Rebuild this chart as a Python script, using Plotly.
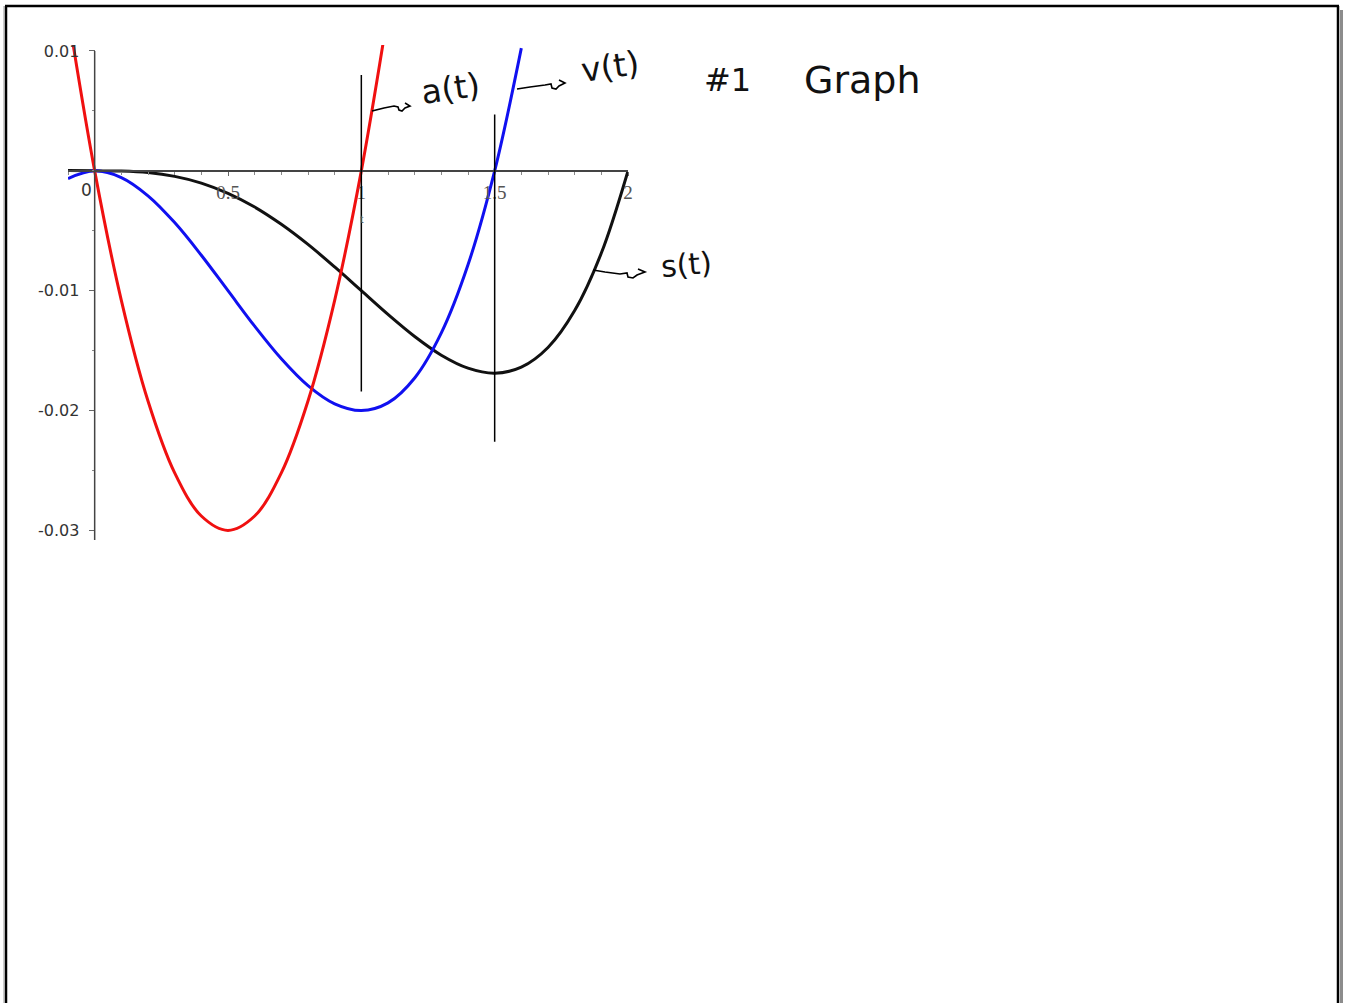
import plotly.graph_objects as go

# position s(t), velocity v(t), acceleration a(t)
t_s = [-0.1, 0.0, 0.1, 0.2, 0.3, 0.4, 0.5, 0.6, 0.7, 0.8, 0.9, 1.0,
       1.1, 1.2, 1.3, 1.4, 1.5, 1.6, 1.7, 1.8, 1.9, 2.0]
s_vals = [0.00002, 0.0, -0.00002, -0.00014, -0.00046, -0.00102, -0.00188, -0.00302,
          -0.00446, -0.00614, -0.00802, -0.0100, -0.01198, -0.01382, -0.01538,
          -0.01646, -0.01688, -0.01638, -0.01474, -0.01166, -0.00686, 0.0]

t_v = [-0.1, 0.0, 0.1, 0.2, 0.3, 0.4, 0.5, 0.6, 0.7, 0.8, 0.9, 1.0,
       1.1, 1.2, 1.3, 1.4, 1.5, 1.6]
v_vals = [-0.00064, 0.0, -0.00056, -0.00208, -0.00432, -0.00704, -0.0100, -0.01296,
          -0.01568, -0.01792, -0.01944, -0.0200, -0.01936, -0.01728, -0.01352,
          -0.00784, 0.0, 0.01024]

t_a = [-0.1, 0.0, 0.1, 0.2, 0.3, 0.4, 0.5, 0.6, 0.7, 0.8, 0.9, 1.0, 1.1]
a_vals = [0.0132, 0.0, -0.0108, -0.0192, -0.0252, -0.0288, -0.0300, -0.0288,
          -0.0252, -0.0192, -0.0108, 0.0, 0.0132]

x_ticks = [0.5, 1, 1.5, 2]
x_tick_text = ["0.5", "1", "1.5", "2"]
y_ticks = [0.01, -0.01, -0.02, -0.03]
y_tick_text = ["0.01", "-0.01", "-0.02", "-0.03"]

marked_t = [1.0, 1.5]

X_RANGE = [-0.1, 2.0]
Y_RANGE = [-0.0308, 0.0105]

W, H = 1347, 1003
L, R, T, B = 68, 628, 45, 540


def pp(x, y):
    """pixel -> paper coords"""
    return (x - L) / (R - L), (B - y) / (B - T)


def path(points):
    segs = []
    for i, (x, y) in enumerate(points):
        px_, py_ = pp(x, y)
        segs.append(("M" if i == 0 else "L") + f"{px_:.5f},{py_:.5f}")
    return " ".join(segs)


fig = go.Figure()
fig.add_trace(go.Scatter(x=t_s, y=s_vals, mode="lines", name="s(t)",
                         line=dict(color="#111111", width=3, shape="spline")))
fig.add_trace(go.Scatter(x=t_v, y=v_vals, mode="lines", name="v(t)",
                         line=dict(color="#1010F0", width=3, shape="spline")))
fig.add_trace(go.Scatter(x=t_a, y=a_vals, mode="lines", name="a(t)",
                         line=dict(color="#F01010", width=3, shape="spline")))

shapes = []
# y axis line, stops at the 0.01 tick
shapes.append(dict(type="line", xref="x", yref="y", x0=0, x1=0, y0=0.01, y1=Y_RANGE[0],
                   line=dict(color="#444444", width=1.5)))
# hand drawn vertical markers
for t, y0, y1 in zip(marked_t, [0.0080, 0.0047], [-0.0184, -0.0226]):
    shapes.append(dict(type="line", xref="x", yref="y", x0=t, x1=t, y0=y0, y1=y1,
                       line=dict(color="black", width=1.5)))

# hand drawn squiggle arrows
arrows = [
    [(372, 111), (384, 108), (394, 106), (398, 107), (399, 110), (402, 111), (405, 108), (410, 106),
     (405, 103)],
    [(517, 89), (530, 87), (545, 85), (551, 84), (552, 88), (556, 89), (559, 86), (565, 83),
     (559, 80)],
    [(593, 270), (605, 272), (620, 274), (627, 273), (628, 277), (633, 278), (637, 275), (645, 272),
     (638, 269)],
]
for pts in arrows:
    shapes.append(dict(type="path", xref="paper", yref="paper", path=path(pts),
                       line=dict(color="black", width=1.6)))

# page frame
for x0, y0, x1, y1, col, w in [
    (5, 6, 1339, 6, "black", 2.5),
    (6, 6, 6, 1003, "black", 2.5),
    (4, 6, 4, 1003, "#999999", 1),
    (1338, 6, 1338, 1003, "black", 2.5),
    (1341.5, 10, 1341.5, 1003, "#8c8c8c", 3),
]:
    a0 = pp(x0, y0)
    a1 = pp(x1, y1)
    shapes.append(dict(type="line", xref="paper", yref="paper",
                       x0=a0[0], y0=a0[1], x1=a1[0], y1=a1[1], line=dict(color=col, width=w)))

annotations = []
hand = dict(family="DejaVu Sans", color="#111111")
for text, x, y, size, ang in [
    ("a(t)", 450, 88, 33, -8),
    ("v(t)", 610, 66, 33, -8),
    ("#1", 727, 80, 32, 0),
    ("Graph", 862, 80, 38, 0),
    ("s(t)", 686, 264, 30, -5),
]:
    ax, ay = pp(x, y)
    annotations.append(dict(text=text, x=ax, y=ay, xref="paper", yref="paper", showarrow=False,
                            xanchor="center", yanchor="middle", textangle=ang,
                            font=dict(size=size, **hand)))

ax0, ay0 = pp(86, 190)
annotations.append(dict(text="0", x=ax0, y=ay0, xref="paper", yref="paper", showarrow=False,
                        xanchor="center", yanchor="middle",
                        font=dict(family="DejaVu Sans", size=17, color="#333333")))
axt, ayt = pp(362, 218)
annotations.append(dict(text="t", x=axt, y=ayt, xref="paper", yref="paper", showarrow=False,
                        xanchor="center", yanchor="middle",
                        font=dict(family="Liberation Serif", size=13, color="#555555")))

x_pos = (0 - Y_RANGE[0]) / (Y_RANGE[1] - Y_RANGE[0])
y_pos = (0 - X_RANGE[0]) / (X_RANGE[1] - X_RANGE[0])

fig.update_layout(
    width=W, height=H,
    margin=dict(l=L, r=W - R, t=T, b=H - B, pad=0),
    paper_bgcolor="white",
    plot_bgcolor="white",
    showlegend=False,
    shapes=shapes,
    annotations=annotations,
    xaxis=dict(
        range=X_RANGE, anchor="free", position=x_pos,
        showgrid=False, zeroline=False,
        showline=True, linecolor="#444444", linewidth=1.5,
        tickmode="array", tickvals=x_ticks, ticktext=x_tick_text,
        ticks="outside", ticklen=4, tickcolor="#666666",
        ticklabelstandoff=1,
        tickfont=dict(family="Liberation Serif", size=19, color="#555555"),
        minor=dict(dtick=0.1, tick0=0, ticks="outside", ticklen=3, tickcolor="#888888"),
    ),
    yaxis=dict(
        range=Y_RANGE, anchor="free", position=y_pos,
        showgrid=False, zeroline=False, showline=False,
        tickmode="array", tickvals=y_ticks, ticktext=y_tick_text,
        ticks="outside", ticklen=6, tickcolor="#666666",
        ticklabelstandoff=6,
        tickfont=dict(family="DejaVu Sans", size=16, color="#333333"),
        minor=dict(dtick=0.005, tick0=0, ticks="outside", ticklen=3, tickcolor="#888888"),
    ),
)

fig.write_html("out.html", config={"displayModeBar": False},
               post_script="document.body.style.margin='0';")
